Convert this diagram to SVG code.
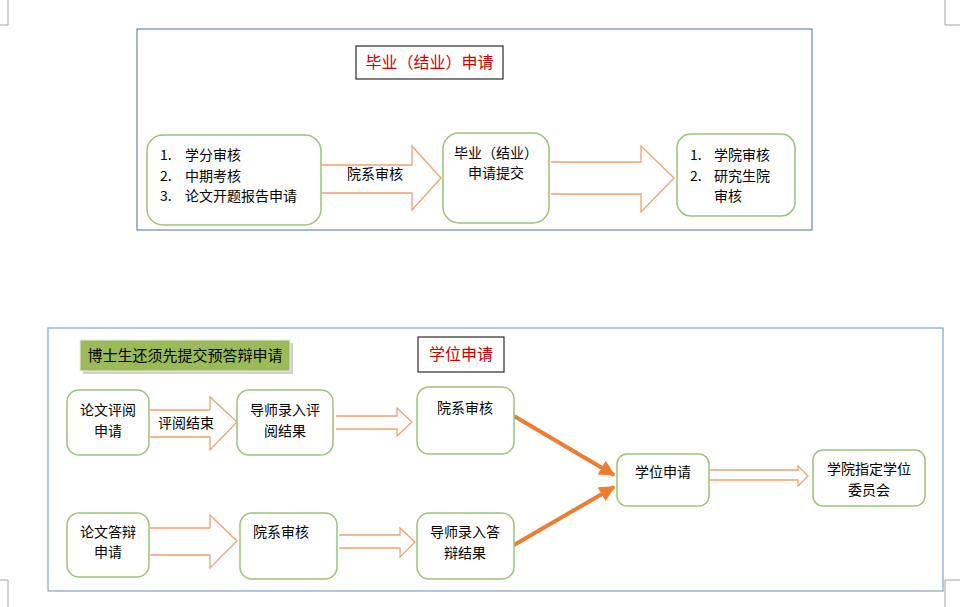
<svg xmlns="http://www.w3.org/2000/svg" width="960" height="607" viewBox="0 0 960 607">
<style>
.bg{fill:#ffffff}
.frame{fill:none;stroke:#4a6fb0;stroke-width:1}
.frame2{fill:none;stroke:#7ea3c8;stroke-width:1.2}
.mark{fill:none;stroke:#a6a6a6;stroke-width:1}
.node{fill:#ffffff;stroke:#9bc47a;stroke-width:1.5}
.title{fill:#ffffff;stroke:#000000;stroke-width:1}
.blk{fill:#ffffff;stroke:#f0a070;stroke-width:1.3;stroke-linejoin:miter}
.thick{stroke:#ed7d31;stroke-width:4;fill:none}
text{font-family:"Noto Sans CJK SC","Microsoft YaHei",sans-serif;font-size:14px;fill:#000000}
.red{fill:#cc0000;font-size:16px}
.mid{text-anchor:middle}
</style>
<defs>
<marker id="ah" viewBox="0 0 10 10" refX="9" refY="5" markerWidth="4" markerHeight="4" orient="auto" markerUnits="strokeWidth">
<path d="M0,0 L10,5 L0,10 z" fill="#ed7d31"/>
</marker>
</defs>
<rect class="bg" x="0" y="0" width="960" height="607"/>
<g id="corner-marks">
<path class="mark" d="M8,0 V25 H0"/>
<path class="mark" d="M945,0 V25 H960"/>
<path class="mark" d="M0,580 H8 V607"/>
<path class="mark" d="M960,580 H945 V607"/>
</g>
<g id="frames">
<rect class="frame" x="137" y="29" width="675" height="201"/>
<rect class="frame2" x="48" y="328" width="895" height="263"/>
</g>
<g id="connectors">
<path class="blk" d="M322,165 H412 V146 L441,178 L412,210 V193 H322"/>
<path class="blk" d="M551,162 H641 V146 L674,178 L641,212 V194 H551"/>
<path class="blk" d="M150,410 H210 V397 L237,422 L210,450 V437 H150"/>
<path class="blk" d="M336,416 H397 V408 L412,422 L397,436 V429 H336"/>
<path class="blk" d="M150,528 H210 V515 L237,541 L210,568 V555 H150"/>
<path class="blk" d="M339,535 H400 V528 L415,542 L400,557 V548 H339"/>
<path class="blk" d="M709,470 H798 V466 L808,476 L798,486 V480 H709"/>
<line class="thick" x1="514" y1="416" x2="614" y2="475" marker-end="url(#ah)"/>
<line class="thick" x1="514" y1="545" x2="614" y2="487" marker-end="url(#ah)"/>
<text x="375" y="179" class="mid">院系审核</text>
<text x="186" y="428" class="mid">评阅结束</text>
</g>
<g id="title1">
<rect class="title" x="356" y="46" width="147" height="33"/>
<text x="429.5" y="68" class="mid red">毕业（结业）申请</text>
</g>
<g id="n-course">
<rect class="node" x="147" y="135" width="174" height="90" rx="16"/>
<text x="160" y="160">1.</text><text x="185" y="160">学分审核</text>
<text x="160" y="181">2.</text><text x="185" y="181">中期考核</text>
<text x="160" y="201">3.</text><text x="185" y="201">论文开题报告申请</text>
</g>
<g id="n-submit">
<rect class="node" x="443" y="133" width="106" height="90" rx="16"/>
<text x="496" y="158" class="mid">毕业（结业）</text>
<text x="496" y="178" class="mid">申请提交</text>
</g>
<g id="n-review">
<rect class="node" x="677" y="134" width="118" height="82" rx="14"/>
<text x="690" y="160">1.</text><text x="714" y="160">学院审核</text>
<text x="690" y="181">2.</text><text x="714" y="181">研究生院</text>
<text x="714" y="201">审核</text>
</g>
<g id="note-phd">
<rect x="83" y="343" width="210" height="31" fill="#d0d0d0"/>
<rect x="80" y="340" width="210" height="31" fill="#9bbb59" stroke="#eeeeee" stroke-width="1"/>
<text x="185" y="361" class="mid" style="font-size:15px">博士生还须先提交预答辩申请</text>
</g>
<g id="title2">
<rect class="title" x="418" y="337" width="86" height="35"/>
<text x="461" y="360" class="mid red">学位申请</text>
</g>
<g id="n-thesis-review">
<rect class="node" x="67" y="390" width="82" height="65" rx="12"/>
<text x="108" y="415" class="mid">论文评阅</text>
<text x="108" y="436" class="mid">申请</text>
</g>
<g id="n-tutor-review">
<rect class="node" x="237" y="390" width="96" height="65" rx="12"/>
<text x="285" y="415" class="mid">导师录入评</text>
<text x="285" y="436" class="mid">阅结果</text>
</g>
<g id="n-dept1">
<rect class="node" x="417" y="387" width="97" height="67" rx="12"/>
<text x="465" y="413" class="mid">院系审核</text>
</g>
<g id="n-defense">
<rect class="node" x="67" y="513" width="82" height="64" rx="12"/>
<text x="108" y="537" class="mid">论文答辩</text>
<text x="108" y="557" class="mid">申请</text>
</g>
<g id="n-dept2">
<rect class="node" x="240" y="513" width="97" height="66" rx="12"/>
<text x="253" y="537">院系审核</text>
</g>
<g id="n-tutor-defense">
<rect class="node" x="417" y="513" width="97" height="66" rx="12"/>
<text x="465" y="537" class="mid">导师录入答</text>
<text x="465" y="558" class="mid">辩结果</text>
</g>
<g id="n-degree">
<rect class="node" x="617" y="454" width="92" height="52" rx="10"/>
<text x="663" y="477" class="mid">学位申请</text>
</g>
<g id="n-committee">
<rect class="node" x="813" y="450" width="112" height="56" rx="10"/>
<text x="869" y="474" class="mid">学院指定学位</text>
<text x="869" y="495" class="mid">委员会</text>
</g>
</svg>
